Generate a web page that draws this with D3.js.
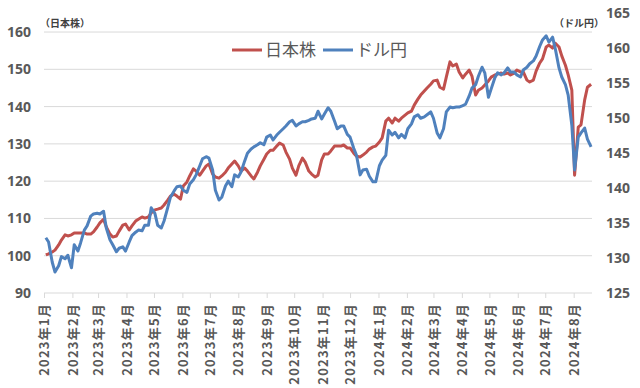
<!DOCTYPE html>
<html>
<head>
<meta charset="utf-8">
<script src="https://cdn.jsdelivr.net/npm/d3@7"></script>
<style>
  body { margin: 0; background: #fff; }
  #chart { width: 640px; height: 388px; }
</style>
</head>
<body>
<div id="chart"></div>
<script>
/*
  DATA (twice a week)
*/
const dates = [
  "2023-01-03","2023-01-06","2023-01-10","2023-01-13","2023-01-17","2023-01-20","2023-01-24","2023-01-27","2023-01-31",
  "2023-02-03","2023-02-07","2023-02-10","2023-02-14","2023-02-17","2023-02-21","2023-02-24","2023-02-28",
  "2023-03-03","2023-03-07","2023-03-10","2023-03-14","2023-03-17","2023-03-21","2023-03-24","2023-03-28","2023-03-31",
  "2023-04-04","2023-04-07","2023-04-11","2023-04-14","2023-04-18","2023-04-21","2023-04-25","2023-04-28",
  "2023-05-02","2023-05-05","2023-05-09","2023-05-12","2023-05-16","2023-05-19","2023-05-23","2023-05-26","2023-05-30",
  "2023-06-02","2023-06-06","2023-06-09","2023-06-13","2023-06-16","2023-06-20","2023-06-23","2023-06-27","2023-06-30",
  "2023-07-04","2023-07-07","2023-07-11","2023-07-14","2023-07-18","2023-07-21","2023-07-25","2023-07-28",
  "2023-08-01","2023-08-04","2023-08-08","2023-08-11","2023-08-15","2023-08-18","2023-08-22","2023-08-25","2023-08-29",
  "2023-09-01","2023-09-05","2023-09-08","2023-09-12","2023-09-15","2023-09-19","2023-09-22","2023-09-26","2023-09-29",
  "2023-10-03","2023-10-06","2023-10-10","2023-10-13","2023-10-17","2023-10-20","2023-10-24","2023-10-27","2023-10-31",
  "2023-11-03","2023-11-07","2023-11-10","2023-11-14","2023-11-17","2023-11-21","2023-11-24","2023-11-28",
  "2023-12-01","2023-12-05","2023-12-08","2023-12-12","2023-12-15","2023-12-19","2023-12-22","2023-12-26","2023-12-29",
  "2024-01-02","2024-01-05","2024-01-09","2024-01-12","2024-01-16","2024-01-19","2024-01-23","2024-01-26","2024-01-30",
  "2024-02-02","2024-02-06","2024-02-09","2024-02-13","2024-02-16","2024-02-20","2024-02-23","2024-02-27",
  "2024-03-01","2024-03-05","2024-03-08","2024-03-12","2024-03-15","2024-03-19","2024-03-22","2024-03-26","2024-03-29",
  "2024-04-02","2024-04-05","2024-04-09","2024-04-12","2024-04-16","2024-04-19","2024-04-23","2024-04-26","2024-04-30",
  "2024-05-03","2024-05-07","2024-05-10","2024-05-14","2024-05-17","2024-05-21","2024-05-24","2024-05-28","2024-05-31",
  "2024-06-04","2024-06-07","2024-06-11","2024-06-14","2024-06-18","2024-06-21","2024-06-25","2024-06-28",
  "2024-07-02","2024-07-05","2024-07-09","2024-07-12","2024-07-16","2024-07-19","2024-07-23","2024-07-26","2024-07-30",
  "2024-08-02","2024-08-06","2024-08-09","2024-08-13","2024-08-16","2024-08-20"
];

// 日本株 (left axis)
const stocks = [
  100.2,100.5,101.0,101.5,102.9,104.2,105.6,105.3,105.6,106.1,106.1,106.1,106.1,105.8,105.8,106.4,
  107.7,108.8,109.8,107.7,105.8,105.0,105.3,106.6,108.2,108.5,106.9,108.0,109.3,109.8,110.4,110.1,
  110.4,111.5,112.3,112.5,112.8,113.6,114.9,116.0,116.5,116.0,115.2,118.7,119.8,121.4,123.3,122.7,
  121.6,122.7,124.1,124.6,121.9,121.1,120.8,121.4,122.4,123.5,124.6,125.4,124.1,122.7,123.5,122.7,
  121.4,120.6,122.4,124.1,125.9,127.3,128.3,128.3,129.4,130.2,129.7,127.8,125.9,123.5,121.6,124.1,
  126.2,125.1,122.7,121.9,121.1,121.6,125.7,127.3,127.3,128.1,129.4,129.4,129.4,129.7,128.9,128.9,
  127.5,126.7,126.5,127.0,127.8,128.6,129.2,129.4,130.5,131.6,136.1,136.9,135.6,136.9,136.1,136.9,
  137.7,138.3,138.8,140.4,142.0,143.1,144.2,145.0,146.0,146.9,147.1,145.2,144.7,147.9,152.0,150.9,
  151.4,149.3,147.7,148.7,149.8,148.2,143.1,144.4,145.0,145.8,146.9,147.9,148.5,148.7,149.0,148.7,
  149.0,148.5,149.0,149.8,149.3,149.3,147.1,146.6,147.1,149.5,151.7,152.8,156.0,156.5,155.7,157.0,
  156.0,153.6,151.1,148.5,144.4,121.6,134.5,135.1,141.8,145.2,146.0
];

// ドル円 (right axis)
const usdjpy = [
  132.9,132.3,129.4,128.0,128.9,130.2,129.9,130.4,128.6,131.9,131.0,132.2,134.0,134.6,136.0,136.3,
  136.4,136.3,136.7,134.3,132.6,131.9,130.9,131.4,131.6,131.0,132.3,133.2,133.7,134.0,133.9,134.7,
  134.7,137.2,136.4,134.7,134.3,135.3,137.2,138.7,139.6,140.2,140.3,139.7,139.4,140.6,141.2,141.9,
  143.2,144.2,144.5,144.3,142.6,139.7,138.3,138.7,140.3,141.0,140.2,141.9,141.6,142.3,143.9,145.0,
  145.6,145.9,146.2,146.5,146.2,147.3,147.6,146.9,147.6,148.0,148.5,148.9,149.5,149.7,148.9,149.2,
  149.5,149.5,149.7,149.9,150.0,151.0,149.9,150.6,151.5,151.0,149.6,148.5,148.9,148.9,147.7,147.3,
  145.7,144.7,141.9,142.6,142.7,141.7,140.9,140.9,143.2,144.0,144.7,148.3,147.6,148.0,147.2,147.7,
  147.2,148.5,149.2,150.2,150.5,150.0,150.2,150.5,150.9,150.0,147.9,147.2,148.5,150.9,151.6,151.5,
  151.6,151.6,151.8,152.0,153.2,154.3,154.8,156.0,157.3,156.5,153.0,154.2,155.8,156.5,156.2,156.5,
  157.2,156.6,156.6,156.2,155.9,156.9,157.3,157.8,158.2,158.9,160.3,161.2,161.8,160.9,161.6,159.9,
  157.2,155.9,154.8,153.3,149.0,142.6,147.3,147.9,148.6,147.0,145.9
];

const seriesNames = ["日本株", "ドル円"];
const seriesColors = ["#C0504D", "#4F81BD"];
const leftTicks = [90, 100, 110, 120, 130, 140, 150, 160];
const rightTicks = [125, 130, 135, 140, 145, 150, 155, 160, 165];
const axisTitles = ["（日本株）", "（ドル円）"];

/*
  CANVAS
*/
const width = 640, height = 388;
const margin = {top: 13.4, left: 44, right: 48, bottom: 95};

const svg = d3.select("#chart")
  .append("svg")
  .attr("width", width)
  .attr("height", height);

const parse = d3.timeParse("%Y-%m-%d");
const stockData = dates.map((d, i) => ({date: parse(d), v: stocks[i]}));
const fxData = dates.map((d, i) => ({date: parse(d), v: usdjpy[i]}));

/*
  SCALES
*/
const xScale = d3.scaleTime()
  .domain([new Date(2023, 0, 1), new Date(2024, 7, 21)])
  .range([margin.left, width - margin.right]);

const yLeft = d3.scaleLinear()
  .domain([90, 165])
  .range([height - margin.bottom, margin.top]);

const yRight = d3.scaleLinear()
  .domain([125, 165])
  .range([height - margin.bottom, margin.top]);

/*
  GRIDLINES
*/
svg.append("g")
  .selectAll("line")
  .data(leftTicks)
  .enter()
  .append("line")
    .attr("x1", margin.left)
    .attr("x2", width - margin.right)
    .attr("y1", d => yLeft(d))
    .attr("y2", d => yLeft(d))
    .attr("stroke", "#d9d9d9")
    .attr("stroke-width", 1);

/*
  AXES
*/
const tickFont = "'Noto Sans', 'DejaVu Sans', sans-serif";

svg.append("g")
  .selectAll("text")
  .data(leftTicks)
  .enter()
  .append("text")
    .attr("x", 31)
    .attr("y", d => yLeft(d))
    .attr("dy", "0.35em")
    .attr("text-anchor", "end")
    .style("font-family", tickFont)
    .style("font-weight", "bold")
    .style("font-size", "14px")
    .attr("fill", "#595959")
    .text(d => d);

svg.append("g")
  .selectAll("text")
  .data(rightTicks)
  .enter()
  .append("text")
    .attr("x", 606)
    .attr("y", d => yRight(d))
    .attr("dy", "0.35em")
    .attr("text-anchor", "start")
    .style("font-family", tickFont)
    .style("font-weight", "bold")
    .style("font-size", "14px")
    .attr("fill", "#595959")
    .text(d => d);

const xAxis = svg.append("g")
  .attr("transform", `translate(0,${height - margin.bottom})`)
  .call(d3.axisBottom(xScale)
    .ticks(d3.timeMonth.every(1))
    .tickSize(5)
    .tickFormat(d => `${d.getFullYear()}年${d.getMonth() + 1}月`));

xAxis.select(".domain").remove();
xAxis.selectAll(".tick line").attr("stroke", "#d9d9d9");
xAxis.selectAll(".tick text")
  .attr("transform", "rotate(-90)")
  .attr("x", -10)
  .attr("y", 0)
  .attr("dy", "0.36em")
  .attr("text-anchor", "end")
  .attr("fill", "#595959")
  .style("font-family", "'Noto Sans CJK JP', sans-serif")
  .style("font-weight", "bold")
  .style("font-size", "13px")
  .style("letter-spacing", "1.2px");

/*
  AXIS TITLES
*/
svg.append("text")
  .attr("x", 40)
  .attr("y", 27)
  .style("font-family", "'Noto Sans CJK JP', sans-serif")
  .style("font-weight", "bold")
  .style("font-size", "10px")
  .attr("fill", "#404040")
  .text(axisTitles[0]);

svg.append("text")
  .attr("x", 604)
  .attr("y", 27)
  .attr("text-anchor", "end")
  .style("font-family", "'Noto Sans CJK JP', sans-serif")
  .style("font-weight", "bold")
  .style("font-size", "10px")
  .attr("fill", "#404040")
  .text(axisTitles[1]);

/*
  LINES
*/
const lineLeft = d3.line().x(d => xScale(d.date)).y(d => yLeft(d.v));
const lineRight = d3.line().x(d => xScale(d.date)).y(d => yRight(d.v));

svg.append("path")
  .datum(stockData)
  .attr("d", lineLeft)
  .attr("fill", "none")
  .attr("stroke", seriesColors[0])
  .attr("stroke-width", 3)
  .attr("stroke-linejoin", "round");

svg.append("path")
  .datum(fxData)
  .attr("d", lineRight)
  .attr("fill", "none")
  .attr("stroke", seriesColors[1])
  .attr("stroke-width", 3)
  .attr("stroke-linejoin", "round");

/*
  LEGEND
*/
const legendX = [232, 323];
const legend = svg.append("g");
seriesNames.forEach((name, i) => {
  legend.append("line")
    .attr("x1", legendX[i])
    .attr("x2", legendX[i] + 30)
    .attr("y1", 50)
    .attr("y2", 50)
    .attr("stroke", seriesColors[i])
    .attr("stroke-width", 3);
  legend.append("text")
    .attr("x", legendX[i] + 33)
    .attr("y", 50)
    .attr("dy", "0.36em")
    .style("font-family", "'Noto Sans CJK JP', sans-serif")
    .style("font-size", "17px")
    .attr("fill", "#595959")
    .text(name);
});
</script>
</body>
</html>
